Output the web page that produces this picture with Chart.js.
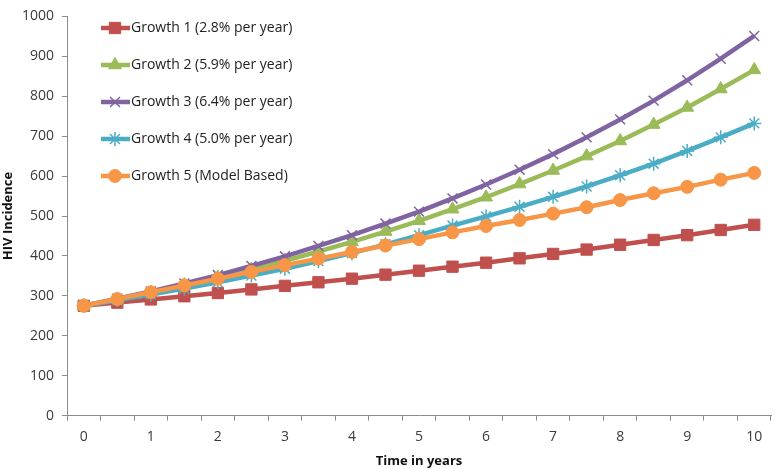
<!DOCTYPE html>
<html>
<head>
<meta charset="utf-8">
<script src="https://cdn.jsdelivr.net/npm/chart.js@4/dist/chart.umd.min.js"></script>
<style>
  html, body { margin: 0; padding: 0; background: #fff; }
  #wrap { width: 780px; height: 469px; position: relative; }
</style>
</head>
<body>
<div id="wrap"><canvas id="chart" width="780" height="469"></canvas></div>
<script>
// time points, every half year
const years = ['0', '0.5', '1', '1.5', '2', '2.5', '3', '3.5', '4', '4.5', '5',
  '5.5', '6', '6.5', '7', '7.5', '8', '8.5', '9', '9.5', '10'];

const growth1 = [275, 283, 291, 299, 307, 316, 325, 334, 343, 353, 363,
  373, 383, 394, 405, 416, 428, 440, 452, 465, 478];
const growth2 = [275, 291, 308, 327, 346, 366, 388, 411, 435, 461, 488,
  517, 547, 580, 614, 650, 688, 729, 772, 818, 866];
const growth3 = [275, 293, 311, 331, 352, 375, 399, 425, 452, 481, 511,
  544, 579, 616, 655, 697, 742, 789, 840, 894, 951];
const growth4 = [275, 289, 303, 318, 334, 351, 368, 387, 407, 429, 452,
  476, 499, 523, 548, 574, 602, 631, 663, 697, 732];
const growth5 = [275, 292, 309, 326, 343, 360, 377, 393, 410, 426, 442,
  459, 475, 490, 506, 522, 540, 557, 573, 591, 608];

const seriesNames = ['Growth 1 (2.8% per year)', 'Growth 2 (5.9% per year)',
  'Growth 3 (6.4% per year)', 'Growth 4 (5.0% per year)', 'Growth 5 (Model Based)'];

const yTicks = [0, 100, 200, 300, 400, 500, 600, 700, 800, 900, 1000];

const axisColor = '#8c8c8c';
const textColor = '#3a3a3a';

// legend drawn inside the plot, top left, stacked
const insideLegend = {
  id: 'insideLegend',
  afterDraw(chart) {
    const ctx = chart.ctx;
    ctx.save();
    chart.data.datasets.forEach((ds, i) => {
      const y = 28 + i * 37;
      ctx.strokeStyle = ds.borderColor;
      ctx.lineWidth = ds.borderWidth;
      ctx.beginPath();
      ctx.moveTo(101, y);
      ctx.lineTo(130, y);
      ctx.stroke();
      ctx.fillStyle = ds.pointBackgroundColor;
      ctx.strokeStyle = ds.pointBorderColor;
      ctx.lineWidth = ds.pointBorderWidth;
      Chart.helpers.drawPoint(ctx, {
        pointStyle: ds.pointStyle,
        radius: ds.pointRadius,
        borderWidth: ds.pointBorderWidth,
        rotation: 0
      }, 115, y);
      ctx.fillStyle = '#222';
      ctx.font = '14px "Open Sans"';
      ctx.textBaseline = 'middle';
      ctx.textAlign = 'left';
      ctx.fillText(ds.label, 131, y);
    });
    ctx.restore();
  }
};

function makeSet(label, data, color, style, radius, pbw, order) {
  return {
    label: label,
    data: data,
    borderColor: color,
    backgroundColor: color,
    borderWidth: 4.5,
    pointStyle: style,
    pointRadius: radius,
    pointHoverRadius: radius,
    pointBackgroundColor: color,
    pointBorderColor: color,
    pointBorderWidth: pbw,
    tension: 0,
    order: order
  };
}

new Chart(document.getElementById('chart'), {
  type: 'line',
  data: {
    labels: years,
    datasets: [
      makeSet(seriesNames[0], growth1, '#C0504D', 'rect', 8, 1, 5),
      makeSet(seriesNames[1], growth2, '#9BBB59', 'triangle', 7.5, 1, 4),
      makeSet(seriesNames[2], growth3, '#8064A2', 'crossRot', 7, 1.5, 3),
      makeSet(seriesNames[3], growth4, '#4BACC6', 'star', 7, 1.5, 2),
      makeSet(seriesNames[4], growth5, '#F79646', 'circle', 6.5, 1, 1)
    ]
  },
  plugins: [insideLegend],
  options: {
    responsive: false,
    animation: false,
    devicePixelRatio: 1,
    layout: { padding: { top: 7, right: 2, bottom: 0, left: 0 } },
    plugins: {
      legend: { display: false },
      tooltip: { enabled: false }
    },
    scales: {
      x: {
        type: 'category',
        offset: true,
        grid: {
          offset: true,
          drawOnChartArea: false,
          drawTicks: true,
          tickLength: 5,
          color: axisColor
        },
        border: { display: true, color: axisColor, width: 1 },
        ticks: {
          autoSkip: false,
          maxRotation: 0,
          padding: 8,
          color: textColor,
          font: { family: 'Open Sans', size: 14 },
          callback: (v, i) => (i % 2 === 0 ? years[i] : '')
        },
        title: {
          display: true,
          text: 'Time in years',
          color: '#111',
          font: { family: 'Open Sans', size: 13, weight: 'bold' },
          padding: { top: 0, bottom: 0 }
        }
      },
      y: {
        min: 0,
        max: 1000,
        afterBuildTicks: (scale) => { scale.ticks = yTicks.map(v => ({ value: v })); },
        afterFit: (scale) => { scale.width = 67; },
        grid: {
          drawOnChartArea: false,
          drawTicks: true,
          tickLength: 5,
          color: axisColor
        },
        border: { display: true, color: axisColor, width: 1 },
        ticks: {
          padding: 8,
          color: textColor,
          font: { family: 'Open Sans', size: 14 },
          callback: (v) => String(v)
        },
        title: {
          display: true,
          text: 'HIV Incidence',
          color: '#111',
          font: { family: 'Open Sans', size: 13, weight: 'bold' },
          padding: { top: 0, bottom: 0 }
        }
      }
    }
  }
});
</script>
</body>
</html>
